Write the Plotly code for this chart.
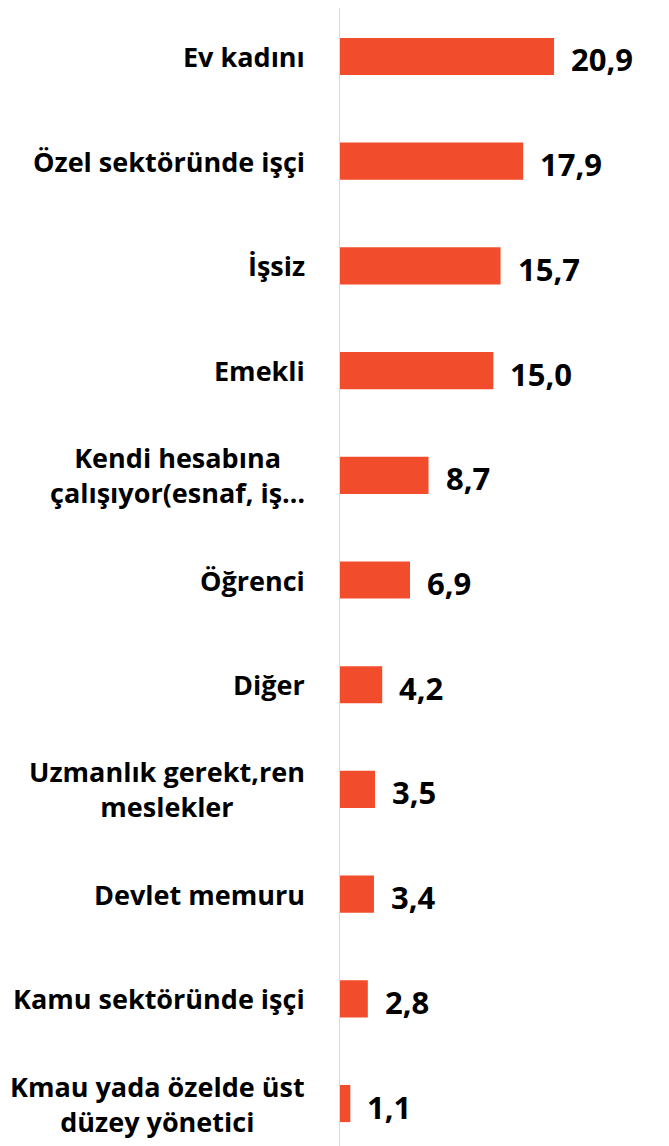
import plotly.graph_objects as go

categories = [
    "Ev kadını",
    "Özel sektöründe işçi",
    "İşsiz",
    "Emekli",
    "Kendi hesabına<br>çalışıyor(esnaf, iş…",
    "Öğrenci",
    "Diğer",
    "Uzmanlık gerekt,ren<br>meslekler",
    "Devlet memuru",
    "Kamu sektöründe işçi",
    "Kmau yada özelde üst<br>düzey yönetici",
]
values = [20.9, 17.9, 15.7, 15.0, 8.7, 6.9, 4.2, 3.5, 3.4, 2.8, 1.1]

BAR_COLOR = "#F14D2C"
FONT = "Open Sans"

ypos = list(range(len(categories)))

fig = go.Figure()
fig.add_trace(go.Bar(
    x=values,
    y=ypos,
    orientation="h",
    marker=dict(color=BAR_COLOR, line=dict(width=0)),
    width=0.355,
    hoverinfo="skip",
))

annotations = []
for i, c in enumerate(categories):
    annotations.append(dict(
        x=0, xref="paper", y=i, yref="y",
        text=c, showarrow=False,
        xanchor="right", yanchor="middle", align="center",
        xshift=-32,
        font=dict(family=FONT, size=27, color="#000000", weight="bold"),
    ))
for i, v in enumerate(values):
    annotations.append(dict(
        x=v, xref="x", y=i, yref="y",
        text=f"{v:.1f}".replace(".", ","), showarrow=False,
        xanchor="left", yanchor="middle",
        xshift=15, yshift=-3,
        font=dict(family=FONT, size=31, color="#000000", weight="bold"),
    ))

fig.update_layout(
    width=661, height=1146,
    margin=dict(l=331, r=0, t=0, b=0),
    paper_bgcolor="white", plot_bgcolor="white",
    separators=",.",
    showlegend=False,
    annotations=annotations,
    xaxis=dict(range=[0, 32.07], visible=False, fixedrange=True),
    yaxis=dict(
        range=[10.482, -0.463],
        showticklabels=False, showgrid=False, zeroline=False,
        showline=False, ticks="",
    ),
    shapes=[dict(type="line", xref="x", yref="paper", x0=0, x1=0, y0=0, y1=1,
                 line=dict(color="#D9D9D9", width=2))],
)

fig.write_html("out.html")
